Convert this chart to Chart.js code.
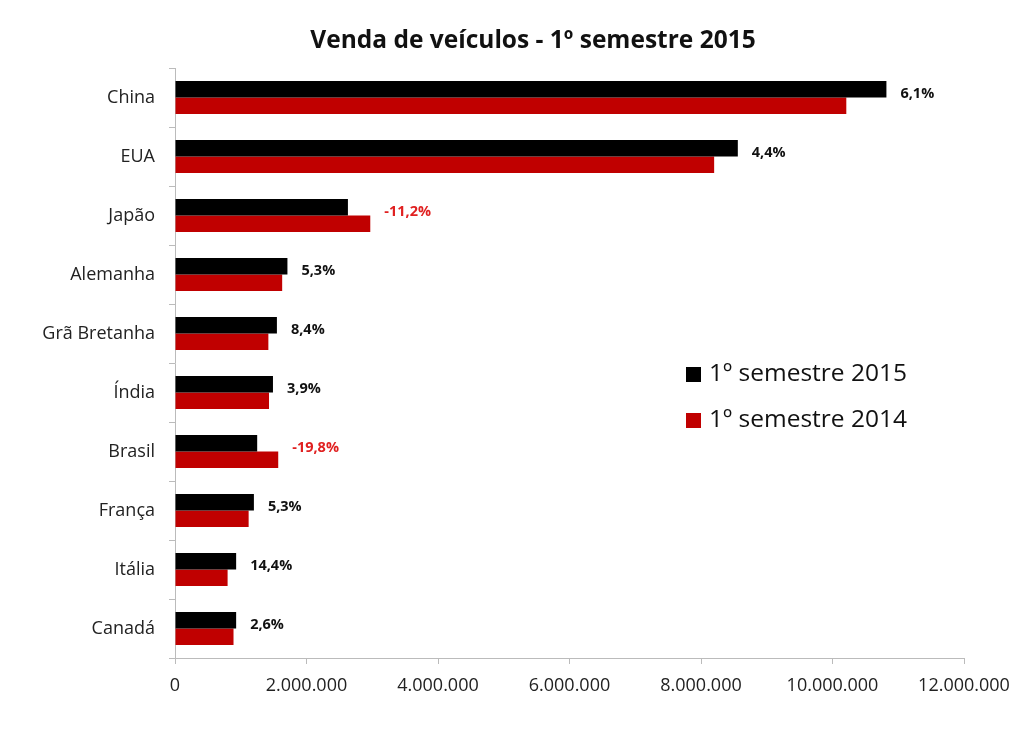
<!DOCTYPE html>
<html>
<head>
<meta charset="utf-8">
<script src="https://cdn.jsdelivr.net/npm/chart.js@4"></script>
<style>
  html, body { margin: 0; padding: 0; background: #fff; }
  #wrap { width: 1024px; height: 729px; }
</style>
</head>
<body>
<div id="wrap"><canvas id="salesChart"></canvas></div>
<script>
const countries = ["China", "EUA", "Japão", "Alemanha", "Grã Bretanha", "Índia", "Brasil", "França", "Itália", "Canadá"];
const sales2015 = [10820000, 8560000, 2630000, 1710000, 1550000, 1490000, 1250000, 1200000, 930000, 930000];
const sales2014 = [10210000, 8200000, 2970000, 1630000, 1420000, 1430000, 1570000, 1120000, 800000, 890000];
const growth = ["6,1%", "4,4%", "-11,2%", "5,3%", "8,4%", "3,9%", "-19,8%", "5,3%", "14,4%", "2,6%"];
const xTicks = [0, 2000000, 4000000, 6000000, 8000000, 10000000, 12000000];
const titleText = "Venda de veículos - 1º semestre 2015";

const FONT = "'Open Sans', Lato, sans-serif";

function fmt(v) {
  return String(v).replace(/\B(?=(\d{3})+(?!\d))/g, ".");
}

// title is a bit off-centre in the original, so draw it by hand
const chartTitle = {
  id: "chartTitle",
  afterDraw(chart) {
    const ctx = chart.ctx;
    ctx.save();
    ctx.font = "bold 24.5px " + FONT;
    ctx.fillStyle = "#111";
    ctx.textAlign = "center";
    ctx.textBaseline = "middle";
    ctx.fillText(titleText, 533, 41);
    ctx.restore();
  }
};

// growth % written after the longer bar of each pair
const growthLabels = {
  id: "growthLabels",
  afterDatasetsDraw(chart) {
    const ctx = chart.ctx;
    const a = chart.getDatasetMeta(0).data;
    const b = chart.getDatasetMeta(1).data;
    const y = chart.scales.y;
    ctx.save();
    ctx.font = "bold 14.5px " + FONT;
    ctx.textBaseline = "middle";
    growth.forEach((g, i) => {
      const x = Math.max(a[i].x, b[i].x) + 14;
      ctx.fillStyle = g.startsWith("-") ? "#e02020" : "#111";
      ctx.fillText(g, x, y.getPixelForValue(i) - 4);
    });
    ctx.restore();
  }
};

// legend sitting inside the plot, right of the short bars
const innerLegend = {
  id: "innerLegend",
  afterDraw(chart) {
    const ctx = chart.ctx;
    const area = chart.chartArea;
    const x0 = area.left + 511;
    let y0 = area.top + 306;
    ctx.save();
    ctx.font = "24.5px " + FONT;
    ctx.textBaseline = "middle";
    chart.data.datasets.forEach(ds => {
      ctx.fillStyle = ds.backgroundColor;
      ctx.fillRect(x0, y0 - 7, 15, 15);
      ctx.fillStyle = "#111";
      ctx.fillText(ds.label, x0 + 23, y0);
      y0 += 46;
    });
    ctx.restore();
  }
};

new Chart(document.getElementById("salesChart"), {
  type: "bar",
  data: {
    labels: countries,
    datasets: [
      { label: "1º semestre 2015", data: sales2015, backgroundColor: "#000000" },
      { label: "1º semestre 2014", data: sales2014, backgroundColor: "#c00000" }
    ]
  },
  options: {
    indexAxis: "y",
    responsive: true,
    maintainAspectRatio: false,
    animation: false,
    categoryPercentage: 0.56,
    barPercentage: 1,
    layout: { padding: { left: 0, right: 60, top: 68, bottom: 0 } },
    plugins: {
      legend: { display: false },
      tooltip: { enabled: false },
      title: { display: false }
    },
    scales: {
      x: {
        min: 0,
        max: 12000000,
        afterBuildTicks(scale) {
          scale.ticks = xTicks.map(v => ({ value: v }));
        },
        afterFit(scale) { scale.height = 71; },
        grid: { drawOnChartArea: false, tickLength: 6, color: "#bbb" },
        border: { color: "#bbb" },
        ticks: {
          padding: 11,
          color: "#222",
          font: { family: FONT, size: 18 },
          callback: v => fmt(v)
        }
      },
      y: {
        afterFit(scale) { scale.width = 175; },
        grid: { drawOnChartArea: false, offset: true, tickLength: 6, color: "#bbb" },
        border: { color: "#bbb" },
        ticks: {
          padding: 14,
          color: "#222",
          font: { family: FONT, size: 18 }
        }
      }
    }
  },
  plugins: [chartTitle, growthLabels, innerLegend]
});
</script>
</body>
</html>
